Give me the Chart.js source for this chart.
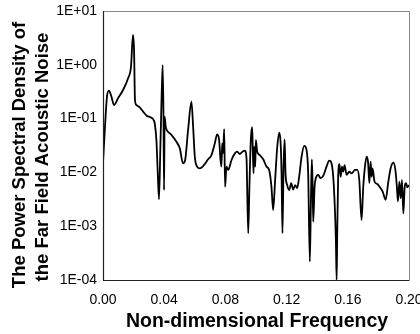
<!DOCTYPE html>
<html>
<head>
<meta charset="utf-8">
<script src="https://cdn.jsdelivr.net/npm/chart.js@4/dist/chart.umd.min.js"></script>
<style>
html,body{margin:0;padding:0;background:#fff;}
#wrap{width:420px;height:334px;position:relative;}
</style>
</head>
<body>
<div id="wrap"><canvas id="c" width="420" height="334"></canvas></div>
<script>
// Non-dimensional frequency
const freq = [
  0, 0.0013, 0.0026, 0.0039, 0.0055, 0.0072, 0.0098, 0.0131, 0.0164, 0.0183,
  0.0196, 0.0203, 0.0209, 0.0218, 0.024, 0.0262, 0.0288, 0.031, 0.0327, 0.0338,
  0.0349, 0.0358, 0.0366, 0.0375, 0.0382, 0.039, 0.0395, 0.0399, 0.0403, 0.041,
  0.0425, 0.0447, 0.048, 0.0502, 0.0523, 0.0537, 0.0556, 0.0578, 0.0589, 0.06,
  0.0615, 0.0633, 0.0654, 0.0687, 0.0709, 0.0731, 0.0746, 0.0759, 0.0768, 0.0774,
  0.0779, 0.0785, 0.0792, 0.0798, 0.0807, 0.0818, 0.084, 0.0862, 0.0877, 0.0894,
  0.0912, 0.0927, 0.0938, 0.0949, 0.0957, 0.0966, 0.0975, 0.0979, 0.0984, 0.0988,
  0.0995, 0.0999, 0.1008, 0.1025, 0.1047, 0.1069, 0.1086, 0.1101, 0.1112, 0.1125,
  0.1139, 0.1152, 0.1161, 0.1167, 0.1173, 0.118, 0.1187, 0.1193, 0.1204, 0.1217,
  0.123, 0.1243, 0.1256, 0.1269, 0.1282, 0.1298, 0.1315, 0.133, 0.1341, 0.1352,
  0.1359, 0.1365, 0.137, 0.1374, 0.1383, 0.1391, 0.1407, 0.1422, 0.1439, 0.1461,
  0.1479, 0.1494, 0.1509, 0.1522, 0.1527, 0.1531, 0.1537, 0.1546, 0.1553, 0.1562,
  0.157, 0.1579, 0.1592, 0.161, 0.1625, 0.1647, 0.1662, 0.1675, 0.169, 0.1701,
  0.1712, 0.1723, 0.1732, 0.1741, 0.1749, 0.1756, 0.1762, 0.1775, 0.1793, 0.181,
  0.1828, 0.1847, 0.1865, 0.188, 0.1898, 0.1911, 0.192, 0.1928, 0.1937, 0.1946,
  0.1954, 0.1963, 0.1972, 0.1981, 0.1989, 0.2
];
// Power spectral density of the far field acoustic noise
const psd = [
  0.0148, 0.0708, 0.256, 0.330, 0.256, 0.179, 0.238, 0.340, 0.560, 0.923,
  3.58, 1.88, 0.222, 0.179, 0.162, 0.135, 0.112, 0.106, 0.098, 0.082,
  0.040, 0.0096, 0.00316, 0.030, 0.192, 0.99, 0.145, 0.0047, 0.109, 0.0708,
  0.057, 0.050, 0.037, 0.028, 0.0147, 0.017, 0.061, 0.207, 0.0708, 0.0196,
  0.0128, 0.0119, 0.0131, 0.0175, 0.021, 0.0347, 0.051, 0.040, 0.017, 0.0128,
  0.0347, 0.0226, 0.064, 0.0054, 0.0128, 0.0111, 0.017, 0.0226, 0.0243, 0.022,
  0.0243, 0.0254, 0.0182, 0.00074, 0.0054, 0.040, 0.069, 0.0265, 0.0096, 0.030,
  0.0128, 0.040, 0.0243, 0.021, 0.0175, 0.0128, 0.0111, 0.0054, 0.0020, 0.0072,
  0.030, 0.0548, 0.0347, 0.0096, 0.00074, 0.0128, 0.041, 0.0096, 0.0058, 0.0047,
  0.0063, 0.0048, 0.0058, 0.0051, 0.0083, 0.0196, 0.031, 0.0265, 0.0096, 0.00022,
  0.0031, 0.0175, 0.0063, 0.00121, 0.0054, 0.0078, 0.0090, 0.0078, 0.0086, 0.0128,
  0.0165, 0.0147, 0.0054, 0.00055, 0.0001, 0.00074, 0.0083, 0.0143, 0.0083, 0.0128,
  0.0103, 0.0137, 0.0090, 0.0103, 0.0096, 0.0111, 0.0111, 0.0072, 0.0013, 0.0054,
  0.0128, 0.0196, 0.0158, 0.0063, 0.0158, 0.0083, 0.0119, 0.0067, 0.0061, 0.0053,
  0.0044, 0.0031, 0.0067, 0.0119, 0.0152, 0.0111, 0.0058, 0.0029, 0.0067, 0.0033,
  0.0072, 0.00173, 0.0054, 0.0063, 0.0053, 0.0058
];
// Tick labels
const yTickValues = [1e-4, 1e-3, 1e-2, 1e-1, 1, 10];
const yTickLabels = ['1E-04', '1E-03', '1E-02', '1E-01', '1E+00', '1E+01'];
const xTickLabels = ['0.00', '0.04', '0.08', '0.12', '0.16', '0.20'];
const xTitle = 'Non-dimensional Frequency';
const yTitleLines = ['The Power Spectral Density of', 'the Far Field Acoustic Noise'];

const FONT = '"Liberation Sans", Arial, Helvetica, sans-serif';

const titlesPlugin = {
  id: 'titlesAndFrame',
  afterDraw(chart) {
    const ctx = chart.ctx;
    const a = chart.chartArea;
    ctx.save();
    // frame
    ctx.lineWidth = 1;
    ctx.strokeStyle = '#8a8a8a';
    ctx.beginPath();
    ctx.moveTo(a.left, a.top + 0.5);
    ctx.lineTo(a.right + 0.5, a.top + 0.5);
    ctx.lineTo(a.right + 0.5, a.bottom);
    ctx.stroke();
    ctx.strokeStyle = '#222';
    ctx.lineWidth = 1.2;
    ctx.beginPath();
    ctx.moveTo(a.left + 0.5, a.top);
    ctx.lineTo(a.left + 0.5, a.bottom + 0.5);
    ctx.lineTo(a.right + 0.5, a.bottom + 0.5);
    ctx.stroke();
    // x title
    ctx.fillStyle = '#000';
    ctx.font = 'bold 19.5px ' + FONT;
    ctx.textAlign = 'center';
    ctx.textBaseline = 'alphabetic';
    ctx.fillText(xTitle, (a.left + a.right) / 2 + 1, 327);
    // y title (two lines, rotated)
    ctx.font = 'bold 18.5px ' + FONT;
    const pos = [[25, 155], [48, 157]];
    yTitleLines.forEach((t, i) => {
      ctx.save();
      ctx.translate(pos[i][0], pos[i][1]);
      ctx.rotate(-Math.PI / 2);
      ctx.fillText(t, 0, 0);
      ctx.restore();
    });
    ctx.restore();
  }
};

new Chart(document.getElementById('c'), {
  type: 'line',
  data: {
    datasets: [{
      data: freq.map((f, i) => ({ x: f, y: psd[i] })),
      borderColor: '#000',
      borderWidth: 1.8,
      pointRadius: 0,
      fill: false,
      cubicInterpolationMode: 'monotone'
    }]
  },
  options: {
    responsive: false,
    animation: false,
    layout: { autoPadding: false, padding: { top: 11, right: 11, bottom: 0, left: 0 } },
    plugins: { legend: { display: false }, tooltip: { enabled: false } },
    scales: {
      x: {
        type: 'linear',
        min: 0,
        max: 0.2,
        afterFit(s) { s.height = 54; s.paddingLeft = 0; s.paddingRight = 0; },
        afterBuildTicks(s) { s.ticks = xTickLabels.map(l => ({ value: parseFloat(l) })); },
        grid: { display: false, drawTicks: false },
        border: { display: false },
        ticks: {
          color: '#000',
          padding: 12,
          maxRotation: 0,
          autoSkip: false,
          font: { family: FONT, size: 14 },
          callback: (v, i) => xTickLabels[i]
        }
      },
      y: {
        type: 'logarithmic',
        min: 1e-4,
        max: 10,
        afterFit(s) { s.width = 103; s.paddingTop = 0; s.paddingBottom = 0; },
        afterBuildTicks(s) { s.ticks = yTickValues.map(v => ({ value: v })); },
        grid: { display: false, drawTicks: false },
        border: { display: false },
        ticks: {
          color: '#000',
          padding: 6,
          autoSkip: false,
          font: { family: FONT, size: 14 },
          callback: (v, i) => yTickLabels[i]
        }
      }
    }
  },
  plugins: [titlesPlugin]
});
</script>
</body>
</html>
